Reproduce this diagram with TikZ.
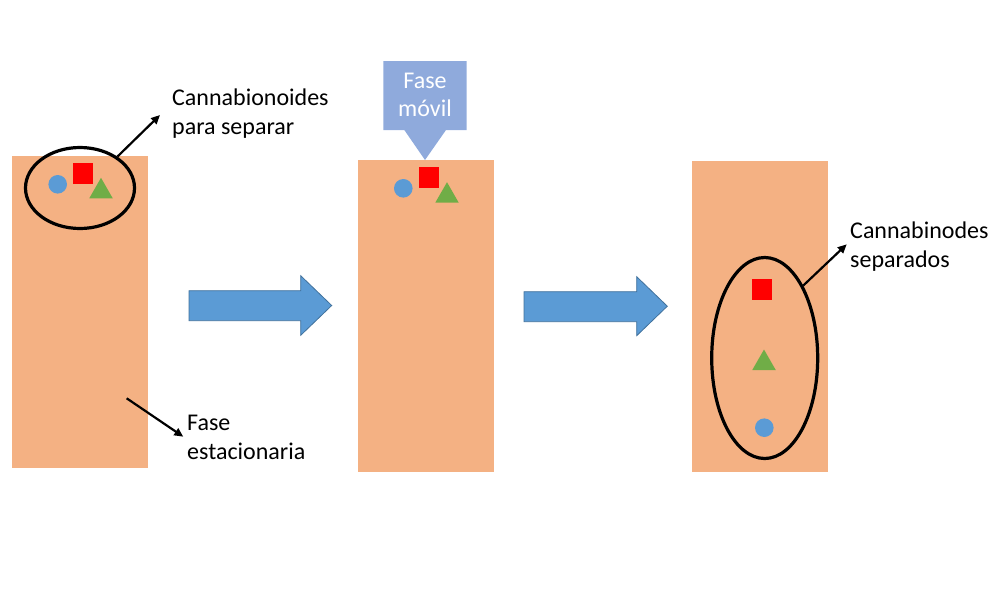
\documentclass[tikz,border=0pt]{standalone}
\usepackage{fontspec}
\setmainfont{Carlito}
\usetikzlibrary{shapes.geometric,arrows.meta}
\definecolor{colfill}{HTML}{F4B183}
\definecolor{dotblue}{HTML}{5B9BD5}
\definecolor{sqred}{HTML}{FF0000}
\definecolor{trigreen}{HTML}{70AD47}
\definecolor{mobile}{HTML}{8FAADC}
\definecolor{arrowedge}{HTML}{41719C}
\tikzset{
  column/.style={rectangle, fill=colfill, minimum width=136, minimum height=312, inner sep=0, outer sep=0},
  dot/.style={circle, fill=dotblue, minimum size=18.6, inner sep=0},
  sq/.style={rectangle, fill=sqred, minimum width=20, minimum height=21, inner sep=0},
  tri/.style={fill=trigreen},
  ring/.style={ellipse, draw=black, line width=3.2pt, inner sep=0},
  pointer/.style={draw=black, line width=2.2pt, -{Triangle[length=9pt,width=8pt]}},
  label/.style={font=\fontsize{24}{28.5}\selectfont, align=left, anchor=base west, inner sep=0},
  bigarrow/.style={fill=dotblue, draw=arrowedge, line width=0.8pt},
}
\begin{document}
\begin{tikzpicture}[x=1pt,y=-1pt]
\useasboundingbox (0,0) rectangle (993,614);
% columns
\node[column] (c1) at (80,312) {};
\node[column] (c2) at (426,316) {};
\node[column, minimum height=311] (c3) at (760,316.5) {};
% column 1 contents
\node[dot] (d1) at (57.7,184.3) {};
\node[sq] (s1) at (82.7,173.8) {};
\fill[tri] (101,198.3) ++(-11.75,0) -- ++(23.5,0) -- ++(-11.75,-20.5) -- cycle;
\node[ring, minimum width=109, minimum height=81] (e1) at (80,188) {};
% column 2 contents
\node[dot] (d2) at (403.3,188.3) {};
\node[sq] (s2) at (429,177) {};
\fill[tri] (447,202.7) ++(-11.75,0) -- ++(23.5,0) -- ++(-11.75,-20.5) -- cycle;
% column 3 contents
\node[sq] (s3) at (762,289.3) {};
\fill[tri] (764,370) ++(-11.75,0) -- ++(23.5,0) -- ++(-11.75,-20.5) -- cycle;
\node[dot] (d3) at (764.3,427.7) {};
\node[ring, minimum width=106, minimum height=201] (e3) at (764.7,358) {};
% mobile phase arrow
\fill[mobile] (383.3,61) -- (466.7,61) -- (466.7,130) -- (446,130) -- (425,160) -- (404.3,130) -- (383.3,130) -- cycle;
\node[font=\fontsize{24}{28}\selectfont, text=white, align=center, anchor=base, inner sep=0] (fm) at (425,116) {Fase\\móvil};
% big arrows
\draw[bigarrow] (189,290.7) -- (300.7,290.7) -- (300.7,275.7) -- (331.7,305.5) -- (300.7,335.3) -- (300.7,320.7) -- (189,320.7) -- cycle;
\draw[bigarrow] (524,291.7) -- (636.7,291.7) -- (636.7,276.7) -- (667.3,306.2) -- (636.7,335.7) -- (636.7,321.7) -- (524,321.7) -- cycle;
% labels
\node[label] (t1) at (172,134) {Cannabionoides\\para separar};
\node[label] (t3) at (850,267) {Cannabinodes\\separados};
\node[label] (t4) at (187,459) {Fase\\estacionaria};
% pointers
\coordinate (p1) at (160,115);
\coordinate (p3) at (846.7,244.3);
\coordinate (p4s) at (126.7,398.3);
\coordinate (p4) at (183.3,436.7);
\draw[pointer] (e1.40) -- (p1);
\draw[pointer] (e3.62) -- (p3);
\draw[pointer] (p4s) -- (p4);
\end{tikzpicture}
\end{document}
